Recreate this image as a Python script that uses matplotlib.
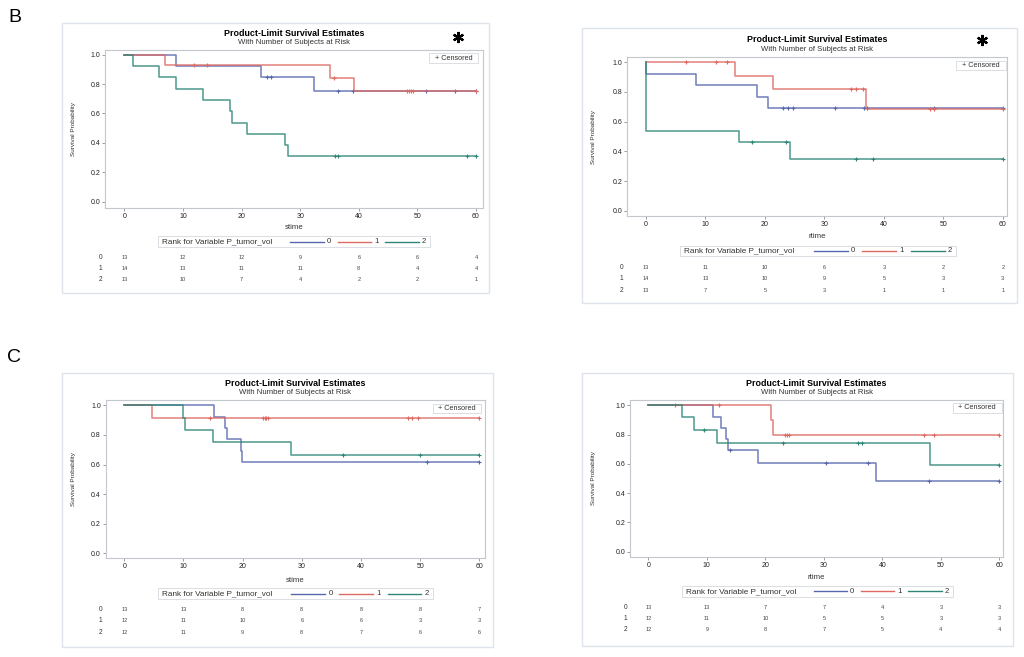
import matplotlib
matplotlib.use("Agg")
import matplotlib.pyplot as plt
import numpy as np
from matplotlib import transforms
from matplotlib.lines import Line2D
from matplotlib.patches import Rectangle

plt.rcParams["font.family"] = ["Liberation Sans", "DejaVu Sans"]

W, H = 1024, 657
GROUPS = ["0", "1", "2"]
COLORS = ["#5767ad", "#dc6a62", "#2e8677"]
RISK_T = [0, 10, 20, 30, 40, 50, 60]

# B, left panel (stime): event times, survival after each event, censor times, at-risk counts
BL_DROP_T = [[8.9, 23.4, 32.4],
             [7.0, 35.1, 39.2],
             [1.4, 5.9, 8.9, 13.4, 18.1, 18.3, 21.0, 27.5, 27.9]]
BL_SURV = [[0.923, 0.846, 0.752],
           [0.929, 0.844, 0.750],
           [0.923, 0.846, 0.769, 0.692, 0.615, 0.538, 0.462, 0.385, 0.308]]
BL_CENS = [[24.4, 25.0, 36.5, 39.1, 51.4, 56.4, 60],
           [11.9, 14.05, 35.8, 48.3, 48.6, 48.9, 49.2, 60],
           [35.9, 36.5, 58.5, 60]]
BL_RISK = [[13, 12, 12, 9, 6, 6, 4],
           [14, 13, 11, 11, 8, 4, 4],
           [13, 10, 7, 4, 2, 2, 1]]

# B, right panel (rtime)
BR_DROP_T = [[0, 8.4, 18.6, 20.5],
             [15.0, 21.3, 37.0],
             [0, 15.7, 24.3]]
BR_SURV = [[0.923, 0.846, 0.769, 0.692],
           [0.909, 0.818, 0.682],
           [0.538, 0.462, 0.346]]
BR_CENS = [[23.1, 23.9, 24.7, 31.8, 36.7, 37.2, 48.5, 60],
           [6.7, 11.7, 13.7, 34.5, 35.3, 36.5, 47.7, 48.5, 60],
           [17.8, 23.6, 35.3, 38.1, 60]]
BR_RISK = [[13, 11, 10, 6, 3, 2, 2],
           [14, 13, 10, 9, 5, 3, 3],
           [13, 7, 5, 3, 1, 1, 1]]

# C, left panel (stime)
CL_DROP_T = [[15.15, 17.1, 17.3, 19.7, 19.9],
             [4.6],
             [9.97, 10.25, 15.0, 28.1]]
CL_SURV = [[0.923, 0.846, 0.769, 0.692, 0.615],
           [0.917],
           [0.917, 0.833, 0.750, 0.667]]
CL_CENS = [[51.1, 60],
           [14.4, 23.4, 23.7, 23.9, 24.3, 47.9, 48.7, 49.6, 60],
           [36.9, 49.9, 60]]
CL_RISK = [[13, 13, 8, 8, 8, 8, 7],
           [12, 11, 10, 6, 6, 3, 3],
           [12, 11, 9, 8, 7, 6, 6]]

# C, right panel (rtime)
CR_DROP_T = [[11.1, 12.5, 13.3, 13.7, 18.8, 39.0],
             [20.9, 21.4],
             [5.8, 7.8, 11.7, 48.1]]
CR_SURV = [[0.923, 0.846, 0.769, 0.692, 0.606, 0.485],
           [0.900, 0.800],
           [0.917, 0.833, 0.741, 0.593]]
CR_CENS = [[13.9, 30.4, 37.6, 47.9, 60],
           [4.6, 12.0, 23.4, 23.7, 24.0, 47.2, 48.9, 60],
           [9.6, 23.0, 35.9, 36.5, 60]]
CR_RISK = [[13, 13, 7, 7, 4, 3, 3],
           [12, 11, 10, 5, 5, 3, 3],
           [12, 9, 8, 7, 5, 4, 4]]

# layout in reference pixels (y down)
LAYOUT = [
    dict(border=(62, 23, 489, 293), frame=(105, 50, 483, 208), x0=124.3, x60=476, y1=54.7, y0=201.7,
         title_y=33.3, sub_y=42.3, xlab="stime", xlab_y=227.7, leg=(158, 236, 430, 247),
         rows=(257.3, 268.3, 279.3), row_x=100.7, cens=(429, 53, 478, 63), ylab_x=73, star=(458, 37)),
    dict(border=(582, 28, 1017, 303), frame=(627, 57, 1007, 216), x0=646, x60=1002.7, y1=62.3, y0=210.7,
         title_y=40, sub_y=49.3, xlab="rtime", xlab_y=236.7, leg=(680, 246, 956, 256),
         rows=(267.3, 279, 290.7), row_x=621.7, cens=(956, 61, 1006, 70), ylab_x=593, star=(982, 40)),
    dict(border=(62, 373, 493, 647), frame=(105.7, 400, 485, 558.3), x0=124.3, x60=479.3, y1=405.3, y0=553.3,
         title_y=384, sub_y=392.7, xlab="stime", xlab_y=580, leg=(157.7, 588, 432.7, 599),
         rows=(609.3, 620.7, 632), row_x=100.7, cens=(432.7, 404, 480.7, 413), ylab_x=73, star=None),
    dict(border=(582, 373, 1013, 646), frame=(630, 400, 1003.3, 556.7), x0=648.3, x60=999.3, y1=405.3, y0=551.7,
         title_y=383.3, sub_y=392.7, xlab="rtime", xlab_y=577.3, leg=(681.7, 586, 952.7, 596.7),
         rows=(607.3, 618.3, 629.3), row_x=625.7, cens=(952.7, 403, 1001.7, 412.7), ylab_x=593, star=None),
]

fig = plt.figure(figsize=(W / 100, H / 100), dpi=100)
px = transforms.Affine2D().scale(1 / W, -1 / H).translate(0, 1) + fig.transFigure


def level_at(t, drops, surv):
    levels = [1.0] + list(surv)
    return levels[np.searchsorted(drops, t, side="right")]


def draw_panel(lay, drops_all, surv_all, cens_all, risk_all):
    bl, bt, br, bb = lay["border"]
    fig.add_artist(Rectangle((bl, bt), br - bl, bb - bt, transform=px, fill=False,
                             edgecolor="#dfe4ec", lw=1.0))
    fl, ft, fr, fb = lay["frame"]
    ax = fig.add_axes([fl / W, 1 - fb / H, (fr - fl) / W, (fb - ft) / H])
    xs = (lay["x60"] - lay["x0"]) / 60.0
    ys = lay["y0"] - lay["y1"]
    ax.set_xlim((fl - lay["x0"]) / xs, (fr - lay["x0"]) / xs)
    ax.set_ylim((lay["y0"] - fb) / ys, (lay["y0"] - ft) / ys)

    for drops, surv, cens, col in zip(drops_all, surv_all, cens_all, COLORS):
        x = [0] + drops + [60]
        y = [1.0] + surv + [surv[-1]]
        ax.step(x, y, where="post", color=col, lw=1.1, alpha=0.85)
        cy = [level_at(t, drops, surv) for t in cens]
        ax.plot(cens, cy, ls="none", marker="+", ms=3.2, mew=0.8, color=col)

    ax.set_xticks(RISK_T)
    ax.set_yticks(np.arange(0, 1.01, 0.2))
    ax.yaxis.set_major_formatter(matplotlib.ticker.FormatStrFormatter("%.1f"))
    ax.tick_params(length=2, width=0.6, color="#8c8c8c", labelsize=5, pad=1.5, labelcolor="#222222")
    for s in ax.spines.values():
        s.set_color("#c3c8cf")
        s.set_linewidth(0.8)

    cx = (fl + fr) / 2
    fig.text(cx, lay["title_y"], "Product-Limit Survival Estimates", transform=px, ha="center",
             va="center", fontsize=6.4, fontweight="bold")
    fig.text(cx, lay["sub_y"], "With Number of Subjects at Risk", transform=px, ha="center",
             va="center", fontsize=5.6, color="#333333")
    fig.text(lay["ylab_x"], (ft + fb) / 2, "Survival Probability", transform=px, ha="center",
             va="center", rotation=90, fontsize=4.6, color="#333333")
    fig.text(cx, lay["xlab_y"], lay["xlab"], transform=px, ha="center", va="center",
             fontsize=5.6, color="#333333")

    # "+ Censored" box
    cl, ct, cr, cb = lay["cens"]
    fig.add_artist(Rectangle((cl, ct), cr - cl, cb - ct, transform=px, facecolor="white",
                             edgecolor="#d4d8de", lw=0.6))
    fig.text((cl + cr) / 2, (ct + cb) / 2, "+ Censored", transform=px, ha="center",
             va="center", fontsize=5.2, color="#333333")

    # bottom legend
    ll, lt, lr, lb = lay["leg"]
    k = (lr - ll) / 272.0
    ym = (lt + lb) / 2
    fig.add_artist(Rectangle((ll, lt), lr - ll, lb - lt, transform=px, facecolor="white",
                             edgecolor="#d4d8de", lw=0.6))
    fig.text(ll + 4 * k, ym, "Rank for Variable P_tumor_vol", transform=px, ha="left",
             va="center", fontsize=5.9, color="#333333")
    for i, (g, col) in enumerate(zip(GROUPS, COLORS)):
        x1 = ll + (132.3 + 47.5 * i) * k
        fig.add_artist(Line2D([x1, x1 + 33.5 * k], [ym, ym], transform=px, color=col, lw=1.0))
        fig.text(x1 + 38.5 * k, ym, g, transform=px, ha="center", va="center",
                 fontsize=5.6, color="#333333")

    # number at risk
    bt_risk = transforms.blended_transform_factory(ax.transData, px)
    for g, ry, counts in zip(GROUPS, lay["rows"], risk_all):
        fig.text(lay["row_x"], ry, g, transform=px, ha="center", va="center", fontsize=4.8,
                 color="#333333")
        for t, n in zip(RISK_T, counts):
            ax.text(t, ry, str(n), transform=bt_risk, ha="center", va="center", fontsize=4,
                    color="#444444", clip_on=False)

    if lay["star"] is not None:
        sx, sy = lay["star"]
        fig.add_artist(Line2D([sx], [sy], transform=px, marker=(6, 2, 0), ms=8, mew=1.6,
                              color="black", ls="none"))


draw_panel(LAYOUT[0], BL_DROP_T, BL_SURV, BL_CENS, BL_RISK)
draw_panel(LAYOUT[1], BR_DROP_T, BR_SURV, BR_CENS, BR_RISK)
draw_panel(LAYOUT[2], CL_DROP_T, CL_SURV, CL_CENS, CL_RISK)
draw_panel(LAYOUT[3], CR_DROP_T, CR_SURV, CR_CENS, CR_RISK)

fig.text(15, 17, "B", transform=px, ha="center", va="center", fontsize=14)
fig.text(14, 358, "C", transform=px, ha="center", va="center", fontsize=14)

fig.savefig("out.png", dpi=100, facecolor="white")
